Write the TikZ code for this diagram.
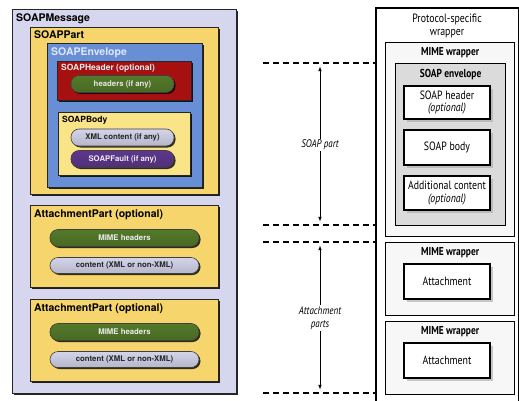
\documentclass[tikz,border=0pt]{standalone}
\usepackage{fontspec}
\setsansfont{TeX Gyre Heros}
\newfontfamily\condfont[FakeStretch=0.82]{PT Sans}
\usetikzlibrary{shadows}

\definecolor{msgfill}{RGB}{214,214,238}
\definecolor{partfill}{RGB}{246,214,108}
\definecolor{envfill}{RGB}{104,142,214}
\definecolor{hdrfill}{RGB}{166,16,16}
\definecolor{bodyfill}{RGB}{250,228,136}
\definecolor{pillgreen}{RGB}{88,128,44}
\definecolor{pilllav}{RGB}{222,222,246}
\definecolor{pillpurple}{RGB}{98,58,148}
\definecolor{envtext}{RGB}{222,232,255}

\tikzset{
  lbox/.style={draw=black!85, line width=0.8pt, anchor=north west, inner sep=0pt,
    drop shadow={shadow xshift=2pt, shadow yshift=-2pt, opacity=0.85, fill=black}},
  ltitle/.style={anchor=north west, inner sep=0pt, font=\sffamily\bfseries\fontsize{10.5}{12}\selectfont},
  lsmall/.style={anchor=north west, inner sep=0pt, font=\sffamily\bfseries\fontsize{8.5}{10}\selectfont},
  pill/.style={draw=black!75, line width=0.6pt, rounded corners=8pt, inner sep=0pt,
    minimum height=17pt, font=\sffamily\bfseries\fontsize{7.8}{9}\selectfont,
    top color=#1!95!black, middle color=#1!70!white, bottom color=#1!82!black,
    drop shadow={shadow xshift=1.5pt, shadow yshift=-1.5pt, opacity=0.8, fill=black}},
  wbox/.style={draw, line width=1.2pt, anchor=north west, inner sep=0pt, fill=black!3},
  ibox/.style={draw, line width=1.8pt, fill=white, minimum width=86pt, inner sep=0pt,
    align=center, font=\condfont\fontsize{12}{12.5}\selectfont,
    drop shadow={shadow xshift=3pt, shadow yshift=-3pt, opacity=0.6, fill=black!35}},
  rlabel/.style={inner sep=0pt, font=\condfont\bfseries\fontsize{11.5}{13}\selectfont},
  guide/.style={line width=1.6pt, dash pattern=on 6pt off 4pt},
  span/.style={latex-latex, line width=0.6pt, shorten >=3.5pt, shorten <=3.5pt},
  spanlbl/.style={fill=white, inner sep=1pt, align=center,
    font=\condfont\itshape\fontsize{11}{13}\selectfont}
}

\begin{document}
\begin{tikzpicture}[x=1pt, y=-1pt]
  \useasboundingbox (0,0) rectangle (519,401);
  \clip (0,0) rectangle (519,401);

  % SOAP message model
  \node[lbox, fill=msgfill, minimum width=224pt, minimum height=384pt] (msg) at (12,9) {};
  \node[ltitle] (msglbl) at ([shift={(4pt,-5pt)}]msg.north west) {SOAPMessage};

  \node[lbox, fill=partfill, minimum width=188pt, minimum height=167pt] (part) at (30,27) {};
  \node[ltitle] (partlbl) at ([shift={(4pt,-4pt)}]part.north west) {SOAPPart};

  \node[lbox, fill=envfill, minimum width=155pt, minimum height=144pt] (env) at (47,43) {};
  \node[ltitle, text=envtext] (envlbl) at ([shift={(4pt,-5pt)}]env.north west) {SOAPEnvelope};

  \node[lbox, fill=hdrfill, minimum width=134pt, minimum height=39pt] (hdr) at (57,61) {};
  \node[lsmall, text=white!92!black] (hdrlbl) at ([shift={(4pt,-3pt)}]hdr.north west) {SOAPHeader (optional)};
  \node[pill=pillgreen, text=white!90!black, minimum width=103pt] (hdrs) at (122.5,84) {headers (if any)};

  \node[lbox, fill=bodyfill, minimum width=132pt, minimum height=63pt] (body) at (58,112) {};
  \node[lsmall] (bodylbl) at ([shift={(4pt,-4pt)}]body.north west) {SOAPBody};
  \node[pill=pilllav, text=black!85, minimum width=103pt] (xml) at (122.5,137.5) {XML content (if any)};
  \node[pill=pillpurple, text=white!92!black, minimum width=103pt] (fault) at (122.5,159) {SOAPFault (if any)};

  \foreach \y/\n in {205/1, 299/2} {
    \node[lbox, fill=partfill, minimum width=188pt, minimum height=82pt] (att\n) at (30,\y) {};
    \node[ltitle] (attlbl\n) at ([shift={(4pt,-4pt)}]att\n.north west) {AttachmentPart (optional)};
    \node[pill=pillgreen, text=white!92!black, minimum width=149pt] (mime\n) at (124.5,\y+33) {MIME headers};
    \node[pill=pilllav, text=black!85, minimum width=149pt, minimum height=16pt] (cont\n) at (124.5,\y+60.5) {content (XML or non-XML)};
  }

  % protocol view
  \node[draw, line width=1.6pt, fill=white, anchor=north west, minimum width=143pt, minimum height=410pt] (wrap) at (375,7) {};
  \node[inner sep=0pt, align=center, font=\condfont\fontsize{12}{12.5}\selectfont] (wraplbl) at (447,26) {Protocol-specific\\wrapper};

  \node[wbox, minimum width=129pt, minimum height=194pt] (mimeA) at (385,42) {};
  \node[rlabel] (mimeAlbl) at ([yshift=-11pt]mimeA.north) {MIME wrapper};
  \node[wbox, fill=black!14, minimum width=110pt, minimum height=162pt] (senv) at (395,63) {};
  \node[rlabel] (senvlbl) at ([yshift=-12pt]senv.north) {SOAP envelope};
  \node[ibox, minimum height=33pt] (shdr) at (447,102.5) {SOAP header\\\textit{(optional)}};
  \node[ibox, minimum height=35pt] (sbody) at (447,147.5) {SOAP body};
  \node[ibox, minimum height=34pt] (sadd) at (447,193) {Additional content\\\textit{(optional)}};

  \node[wbox, minimum width=129pt, minimum height=73pt] (mimeB) at (385,242) {};
  \node[rlabel] (mimeBlbl) at ([yshift=-11pt]mimeB.north) {MIME wrapper};
  \node[ibox, minimum height=35pt] (attB) at (447,281.5) {Attachment};

  \node[wbox, minimum width=129pt, minimum height=73pt] (mimeC) at (385,321) {};
  \node[rlabel] (mimeClbl) at ([yshift=-11pt]mimeC.north) {MIME wrapper};
  \node[ibox, minimum height=35pt] (attC) at (447,360.5) {Attachment};

  % guides and spans
  \coordinate (g1) at (263,63);
  \coordinate (g2) at (263,225);
  \coordinate (g3) at (263,242);
  \coordinate (g4) at (263,393);
  \coordinate (ax) at (320,0);
  \foreach \g in {g1,g2,g3,g4}
    \draw[guide] (\g) -- (\g -| wrap.west);

  \draw[span] (g1 -| ax) -- (g2 -| ax);
  \node[spanlbl] (soaplbl) at (320,145) {SOAP part};
  \draw[span] (g3 -| ax) -- (g4 -| ax);
  \node[spanlbl] (attlbl) at (320,318) {Attachment\\parts};
\end{tikzpicture}
\end{document}
